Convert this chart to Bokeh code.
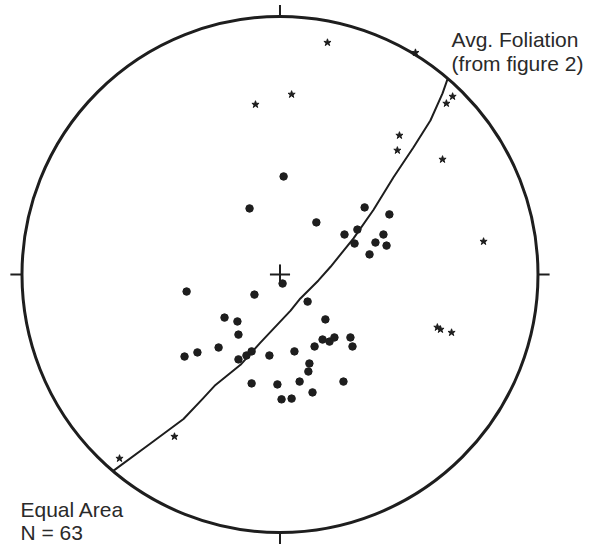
from bokeh.plotting import figure
from bokeh.models import Range1d
from bokeh.embed import file_html
from bokeh.resources import INLINE
from bokeh.core.properties import value

# Stereonet coordinates (unit primitive circle, north up)
dots_x = [0.014, -0.118, 0.141, 0.328, 0.424, 0.300, 0.250, 0.401, 0.289, 0.370,
          0.413, 0.347, 0.010, -0.099, -0.362, 0.107, -0.215, -0.165, 0.176, -0.161,
          0.165, 0.192, 0.211, 0.273, 0.281, 0.134, -0.238, -0.370, -0.320, -0.161,
          -0.130, -0.110, -0.041, 0.056, 0.114, 0.110, 0.076, 0.246, 0.126, -0.110,
          -0.010, 0.006, 0.045]
dots_y = [0.380, 0.256, 0.202, 0.260, 0.233, 0.174, 0.155, 0.155, 0.120, 0.124,
          0.112, 0.078, -0.035, -0.078, -0.066, -0.105, -0.167, -0.182, -0.174, -0.233,
          -0.252, -0.260, -0.244, -0.244, -0.279, -0.279, -0.283, -0.318, -0.302, -0.329,
          -0.314, -0.298, -0.314, -0.298, -0.345, -0.376, -0.415, -0.415, -0.457, -0.422,
          -0.426, -0.484, -0.481]

stars_x = [0.184, 0.525, 0.045, -0.095, 0.669, 0.645, 0.463, 0.455, 0.630, 0.789,
           0.610, 0.622, 0.665, -0.622, -0.409]
stars_y = [0.899, 0.860, 0.698, 0.659, 0.690, 0.663, 0.539, 0.481, 0.446, 0.128,
           -0.205, -0.213, -0.225, -0.713, -0.628]

# Average foliation great circle (traced)
gc_x = [0.649, 0.630, 0.583, 0.517, 0.440, 0.362, 0.285, 0.196, 0.149,
        0.079, 0.041, -0.076, -0.153, -0.250, -0.300, -0.374, -0.502, -0.645]
gc_y = [0.756, 0.702, 0.597, 0.492, 0.377, 0.250, 0.140, 0.030, -0.023,
        -0.093, -0.140, -0.264, -0.350, -0.428, -0.482, -0.560, -0.655, -0.760]

label_top = ["Avg. Foliation", "(from figure 2)"]
label_bottom = ["Equal Area", "N = 63"]

INK = "#1e1e1e"
FONT = value("Liberation Sans")

p = figure(width=599, height=544, output_backend="svg", toolbar_location=None,
           x_range=Range1d(-1.0833, 1.2384), y_range=Range1d(-1.0465, 1.062),
           min_border=0, background_fill_color="white", border_fill_color="white")
p.axis.visible = False
p.grid.visible = False
p.outline_line_color = None

# primitive circle
p.circle(x=[0], y=[0], radius=1, fill_color=None, line_color=INK, line_width=3)

# cardinal ticks
t0, t1 = 1.0, 1.045
p.segment(x0=[0, 0, t0, -t0], y0=[t0, -t0, 0, 0],
          x1=[0, 0, t1, -t1], y1=[t1, -t1, 0, 0], line_color=INK, line_width=2)

# centre cross
c = 0.039
p.segment(x0=[-c, 0], y0=[0, -c], x1=[c, 0], y1=[0, c], line_color=INK, line_width=2)

# great circle
p.line(gc_x, gc_y, line_color=INK, line_width=2, line_join="round")

# data
p.scatter(dots_x, dots_y, marker="circle", size=7.5, color=INK)
p.scatter(stars_x, stars_y, marker="star", size=7.5, color=INK)

# labels
p.text(x=[0.665, 0.665], y=[0.911, 0.818], text=label_top, text_font=FONT,
       text_font_size="21px", text_color="#2a2a2a", text_baseline="alphabetic",
       text_align="left")
p.text(x=[-1.006, -1.006], y=[-0.910, -1.000], text=label_bottom, text_font=FONT,
       text_font_size="21px", text_color="#2a2a2a", text_baseline="alphabetic",
       text_align="left")

open("out.html", "w").write(file_html(p, INLINE))
